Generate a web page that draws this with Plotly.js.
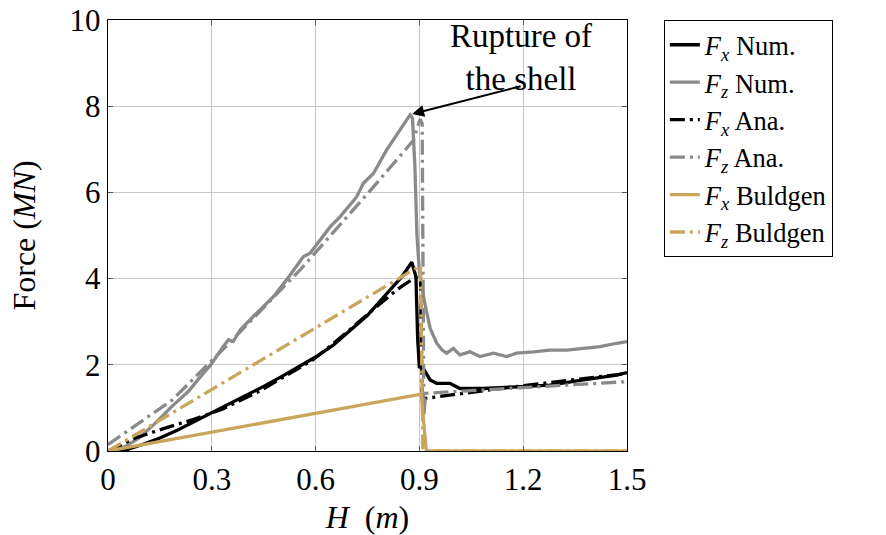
<!DOCTYPE html>
<html>
<head>
<meta charset="utf-8">
<script src="https://cdn.plot.ly/plotly-3.0.1.min.js"></script>
<style>html,body{margin:0;padding:0;background:#fff;}#chart{width:886px;height:535px;}</style>
</head>
<body>
<div id="chart"></div>
<script>
// ---- data ----
const H_fxNum = [0, 0.05, 0.1, 0.15, 0.2, 0.25, 0.3, 0.35, 0.4, 0.45, 0.5, 0.55, 0.6, 0.65, 0.7, 0.75, 0.8, 0.85, 0.878, 0.885, 0.89, 0.895, 0.9, 0.905, 0.915, 0.931, 0.95, 0.988, 1.017, 1.085, 1.181, 1.277, 1.374, 1.47, 1.5];
const fxNum   = [0, 0.02, 0.15, 0.3, 0.48, 0.68, 0.9, 1.1, 1.3, 1.5, 1.72, 1.95, 2.18, 2.45, 2.8, 3.15, 3.6, 4.05, 4.38, 4.2, 4.05, 2.6, 1.92, 2.0, 1.85, 1.65, 1.57, 1.57, 1.45, 1.45, 1.49, 1.53, 1.65, 1.76, 1.82];

const H_fzNum = [0, 0.049, 0.088, 0.136, 0.184, 0.232, 0.271, 0.295, 0.333, 0.348, 0.362, 0.382, 0.42, 0.449, 0.478, 0.516, 0.565, 0.584, 0.613, 0.642, 0.671, 0.719, 0.738, 0.767, 0.805, 0.844, 0.873, 0.88, 0.887, 0.893, 0.9, 0.915, 0.931, 0.95, 0.965, 0.979, 0.998, 1.017, 1.046, 1.075, 1.114, 1.152, 1.181, 1.23, 1.277, 1.326, 1.374, 1.422, 1.47, 1.5];
const fzNum   = [0, 0.1, 0.29, 0.64, 1.03, 1.38, 1.76, 1.98, 2.42, 2.58, 2.54, 2.81, 3.12, 3.35, 3.58, 3.97, 4.51, 4.59, 4.9, 5.2, 5.44, 5.9, 6.21, 6.44, 6.98, 7.45, 7.8, 7.72, 6.6, 5.0, 4.15, 3.45, 2.85, 2.5, 2.35, 2.27, 2.38, 2.23, 2.3, 2.19, 2.27, 2.19, 2.27, 2.3, 2.34, 2.34, 2.38, 2.42, 2.5, 2.54];

const H_fxAna = [0, 0.078, 0.165, 0.25, 0.33, 0.44, 0.59, 0.66, 0.757, 0.835, 0.864, 0.903, 0.908, 0.917, 1.133, 1.5];
const fxAna   = [0, 0.3, 0.53, 0.74, 0.97, 1.4, 2.1, 2.55, 3.22, 3.74, 3.9, 4.1, 1.25, 1.22, 1.45, 1.8];

const H_fzAna = [0, 0.09, 0.185, 0.35, 0.555, 0.748, 0.882, 0.902, 0.908, 0.913, 0.918, 1.5];
const fzAna   = [0.15, 0.65, 1.18, 2.5, 4.2, 5.95, 7.2, 7.7, 7.6, 0.8, 1.34, 1.61];

const H_fxBul = [0, 0.905, 0.92, 1.5];
const fxBul   = [0, 1.32, 0, 0];

const H_fzBul = [0, 0.903, 0.91, 1.5];
const fzBul   = [0, 4.3, 0, 0];

const xTicks = [0, 0.3, 0.6, 0.9, 1.2, 1.5];
const xTickText = ["0", "0.3", "0.6", "0.9", "1.2", "1.5"];
const yTicks = [0, 2, 4, 6, 8, 10];

const names = [
  "<i>F</i><sub><i>x</i></sub> Num.",
  "<i>F</i><sub><i>z</i></sub> Num.",
  "<i>F</i><sub><i>x</i></sub> Ana.",
  "<i>F</i><sub><i>z</i></sub> Ana.",
  "<i>F</i><sub><i>x</i></sub> Buldgen",
  "<i>F</i><sub><i>z</i></sub> Buldgen"
];

const BLACK = "#000000", GRAY = "#8a8a8a", GOLD = "#c9a65c";
const DD = "15px,5px,3px,5px";
const LW = 3.3;

const traces = [
  {x: H_fxNum, y: fxNum, name: names[0], line: {color: BLACK, width: LW}},
  {x: H_fzNum, y: fzNum, name: names[1], line: {color: GRAY, width: LW}},
  {x: H_fxAna, y: fxAna, name: names[2], line: {color: BLACK, width: LW, dash: DD}},
  {x: H_fzAna, y: fzAna, name: names[3], line: {color: GRAY, width: LW, dash: DD}},
  {x: H_fxBul, y: fxBul, name: names[4], line: {color: GOLD, width: LW}},
  {x: H_fzBul, y: fzBul, name: names[5], line: {color: GOLD, width: LW, dash: DD}}
].map(t => Object.assign({type: "scatter", mode: "lines"}, t));

const FONT = "Liberation Serif, Times New Roman, serif";

const axisCommon = {
  showgrid: true, gridcolor: "#c8c8c8", gridwidth: 1,
  showline: true, linecolor: "#000", linewidth: 1.3, mirror: "ticks",
  ticks: "inside", ticklen: 5, tickcolor: "#555", tickwidth: 1,
  zeroline: false,
  tickfont: {family: FONT, size: 31, color: "#000"}
};

const layout = {
  width: 886, height: 535,
  margin: {l: 108, r: 259, t: 20, b: 84},
  paper_bgcolor: "#fff", plot_bgcolor: "#fff",
  font: {family: FONT, color: "#000"},
  showlegend: true,
  legend: {
    x: 1.071, y: 1, xanchor: "left", yanchor: "top",
    bordercolor: "#000", borderwidth: 1, bgcolor: "#fff",
    font: {family: FONT, size: 26.5, color: "#000"}
  },
  xaxis: Object.assign({}, axisCommon, {
    range: [0, 1.5], tickvals: xTicks, ticktext: xTickText,
    title: {text: "<i>H</i>  (<i>m</i>)", font: {family: FONT, size: 32}, standoff: 12}
  }),
  yaxis: Object.assign({}, axisCommon, {
    range: [0, 10], tickvals: yTicks,
    title: {text: "Force (<i>MN</i>)", font: {family: FONT, size: 32}, standoff: 24}
  }),
  annotations: [
    {x: 1.195, y: 9.12, xref: "x", yref: "y", text: "Rupture of<br>the shell",
     showarrow: false, align: "center", xanchor: "center", yanchor: "middle",
     font: {family: FONT, size: 33, color: "#000"}},
    {x: 0.879, y: 7.82, ax: 1.197, ay: 8.47, xref: "x", yref: "y", axref: "x", ayref: "y",
     text: "", showarrow: true, arrowhead: 2, arrowsize: 1.2, arrowwidth: 2, arrowcolor: "#000", standoff: 0}
  ]
};

Plotly.newPlot("chart", traces, layout, {displayModeBar: false, staticPlot: true});
</script>
</body>
</html>
